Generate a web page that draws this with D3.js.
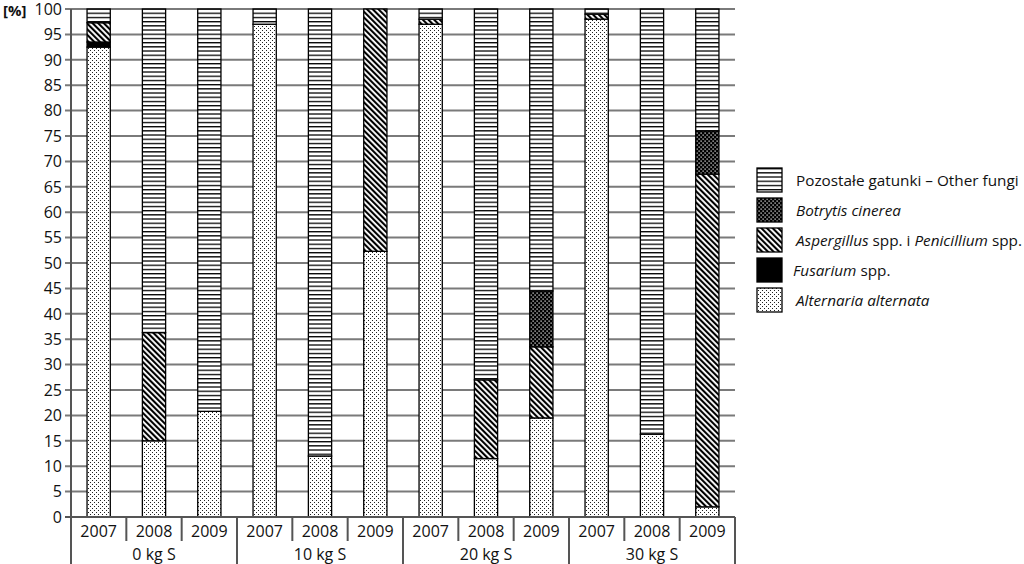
<!DOCTYPE html>
<html><head><meta charset="utf-8">
<script src="https://cdn.jsdelivr.net/npm/d3@7"></script>
<style>
body{margin:0;background:#fff;}
svg{display:block;font-family:"Open Sans",sans-serif;}
</style></head>
<body><svg id="c" width="1024" height="564"></svg>
<script>
const groups = ["0 kg S","10 kg S","20 kg S","30 kg S"];
const years = ["2007","2008","2009"];
const yTicks = [0,5,10,15,20,25,30,35,40,45,50,55,60,65,70,75,80,85,90,95,100];
// values per bar in order: group x year
const alternaria = [92.5,15,20.8, 97,12,52.3, 97,11.5,19.5, 98,16.3,2];
const fusarium   = [1,0,0, 0,0,0, 0,0,0, 0,0,0];
const aspergillus= [3.8,21.3,0, 0,0,47.7, 1,15.5,14, 1,0,65.5];
const botrytis   = [0,0,0, 0,0,0, 0,0,11, 0,0,8.5];
const other      = [2.7,63.7,79.2, 3,88,0, 2,73,55.5, 1,83.7,24];
const seriesNames = ["Alternaria alternata","Fusarium spp.","Aspergillus spp. i Penicillium spp.","Botrytis cinerea","Pozostałe gatunki – Other fungi"];

const svg = d3.select("#c");
const L=71, R=735, T=9, B=517;
const bars = [];
groups.forEach((g,gi)=>years.forEach((yr,yi)=>bars.push({id:gi*3+yi,g,yr})));
const x = d3.scaleBand().domain(bars.map(d=>d.id)).range([L,R]).paddingInner(0.58).paddingOuter(0.29);
const y = d3.scaleLinear().domain([0,100]).range([B,T]);

const defs = svg.append("defs");
let p = defs.append("pattern").attr("id","pAlt").attr("patternUnits","userSpaceOnUse").attr("width",4).attr("height",4);
p.append("rect").attr("width",4).attr("height",4).attr("fill","#fff");
p.append("rect").attr("x",0).attr("y",0).attr("width",1).attr("height",1).attr("fill","#222");
p.append("rect").attr("x",2).attr("y",2).attr("width",1).attr("height",1).attr("fill","#222");
p = defs.append("pattern").attr("id","pAsp").attr("patternUnits","userSpaceOnUse").attr("width",4).attr("height",4).attr("patternTransform","rotate(-45)");
p.append("rect").attr("width",4).attr("height",4).attr("fill","#fff");
p.append("rect").attr("width",2.1).attr("height",4).attr("fill","#000");
p = defs.append("pattern").attr("id","pBot").attr("patternUnits","userSpaceOnUse").attr("width",4).attr("height",4);
p.append("rect").attr("width",4).attr("height",4).attr("fill","#000");
p.append("rect").attr("x",0.5).attr("y",0.5).attr("width",1.2).attr("height",1.2).attr("fill","#fff");
p.append("rect").attr("x",2.5).attr("y",2.5).attr("width",1.2).attr("height",1.2).attr("fill","#fff");
p = defs.append("pattern").attr("id","pOth").attr("patternUnits","userSpaceOnUse").attr("width",4).attr("height",4.2);
p.append("rect").attr("width",4).attr("height",4.2).attr("fill","#fff");
p.append("rect").attr("y",0).attr("width",4).attr("height",1.3).attr("fill","#000");

const fills = ["url(#pAlt)","#000","url(#pAsp)","url(#pBot)","url(#pOth)"];
const data = [alternaria,fusarium,aspergillus,botrytis,other];

svg.append("g").selectAll("line").data(yTicks.filter(t=>t>0)).join("line")
  .attr("x1",L-6).attr("x2",R).attr("y1",d=>y(d)).attr("y2",d=>y(d))
  .attr("stroke","#7a7a7a").attr("stroke-width",2);

const stackRows = bars.map((b,i)=>{const o={id:b.id}; data.forEach((s,k)=>o["s"+k]=s[i]); return o;});
const stack = d3.stack().keys(data.map((_,k)=>"s"+k))(stackRows);
const gBars = svg.append("g");
stack.forEach((layer,k)=>{
  gBars.selectAll(null).data(layer.filter(d=>d[1]-d[0]>0)).join("rect")
    .attr("x",d=>x(d.data.id)).attr("width",x.bandwidth())
    .attr("y",d=>y(d[1])).attr("height",d=>y(d[0])-y(d[1]))
    .attr("fill",fills[k]).attr("stroke","#000").attr("stroke-width",1.3);
});

svg.append("line").attr("x1",L).attr("x2",L).attr("y1",T).attr("y2",564).attr("stroke","#555").attr("stroke-width",2);
svg.append("line").attr("x1",L-6).attr("x2",R).attr("y1",B).attr("y2",B).attr("stroke","#555").attr("stroke-width",2);
svg.append("g").selectAll("text").data(yTicks).join("text")
  .attr("x",L-3-6).attr("y",d=>y(d)).attr("dy","0.36em").attr("text-anchor","end")
  .attr("font-size",16).attr("fill","#111").text(d=>d);
svg.append("text").attr("x",3).attr("y",16).attr("font-size",15).attr("font-weight","bold").attr("fill","#111").text("[%]");

const step = x.step();
const bounds = d3.range(13).map(i=>L+i*step);
svg.append("g").selectAll("line").data(bounds.slice(1)).join("line")
  .attr("x1",d=>d).attr("x2",d=>d).attr("y1",B)
  .attr("y2",(d,i)=>((i+1)%3===0)?564:541)
  .attr("stroke","#555").attr("stroke-width",2);
svg.append("g").selectAll("text").data(bars).join("text")
  .attr("x",d=>x(d.id)+x.bandwidth()/2).attr("y",531).attr("dy","0.36em").attr("text-anchor","middle")
  .attr("font-size",16).attr("fill","#111").text(d=>d.yr);
svg.append("g").selectAll("text").data(groups).join("text")
  .attr("x",(d,i)=>L+(i*3+1.5)*step).attr("y",554).attr("dy","0.36em").attr("text-anchor","middle")
  .attr("font-size",16).attr("fill","#111").text(d=>d);

const legOrder = [4,3,2,1,0];
const leg = svg.append("g");
legOrder.forEach((k,i)=>{
  const yy = 168 + i*30;
  leg.append("rect").attr("x",757).attr("y",yy).attr("width",25).attr("height",24)
    .attr("fill",fills[k]).attr("stroke","#000").attr("stroke-width",1.3);
  const t = leg.append("text").attr("x",i===3?793:796).attr("y",yy+12).attr("dy","0.36em").attr("font-size",15.3).attr("fill","#111");
  if(k===4){ t.text(seriesNames[4]); }
  else if(k===3){ t.append("tspan").attr("font-style","italic").text("Botrytis cinerea"); }
  else if(k===2){ t.append("tspan").attr("font-style","italic").text("Aspergillus");
    t.append("tspan").text(" spp. i ");
    t.append("tspan").attr("font-style","italic").text("Penicillium");
    t.append("tspan").text(" spp."); }
  else if(k===1){ t.append("tspan").attr("font-style","italic").text("Fusarium");
    t.append("tspan").text(" spp."); }
  else { t.append("tspan").attr("font-style","italic").text("Alternaria alternata"); }
});
</script></body></html>
